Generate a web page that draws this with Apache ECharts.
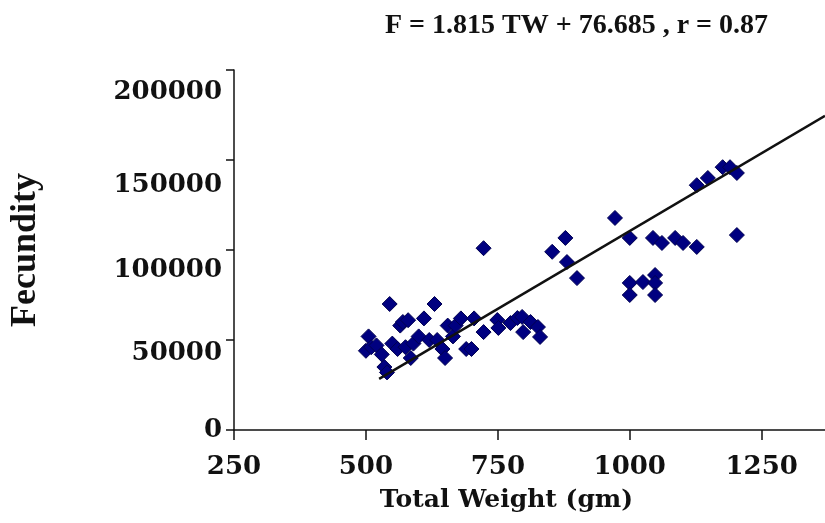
<!DOCTYPE html>
<html>
<head>
<meta charset="utf-8">
<script src="https://cdn.jsdelivr.net/npm/echarts@6/dist/echarts.min.js"></script>
<style>
html, body { margin: 0; padding: 0; background: #fff; }
#chart { width: 825px; height: 523px; }
</style>
</head>
<body>
<div id="chart"></div>
<script>
// total weight (gm) vs fecundity
var weightList = [500, 505, 510, 520, 530, 535, 540, 545, 550, 560, 565, 570, 575, 580, 585, 590,
    600, 610, 620, 630, 635, 645, 650, 655, 665, 670, 680, 690, 700, 705,
    723, 749, 751, 774, 787, 796, 798, 812, 826, 830,
    723, 853, 878, 881, 900, 972, 1000,
    1000, 1000, 1025, 1048, 1048, 1048,
    1044, 1061, 1086, 1101, 1127,
    1127, 1148, 1176, 1190, 1203, 1203];
var fecundityList = [44000, 52000, 46000, 47000, 42000, 35000, 32000, 70000, 48000, 45000, 58000, 60000, 46000, 61000, 40000, 48000,
    52000, 62000, 50000, 70000, 50000, 45000, 40000, 58000, 52000, 58000, 62000, 45000, 45000, 62000,
    54400, 61100, 56700, 59400, 62200, 62800, 54400, 60000, 57200, 51700,
    101000, 99000, 106700, 93300, 84400, 117800, 106700,
    81700, 75000, 82200, 86100, 81700, 75000,
    106700, 103900, 106700, 103900, 101700,
    136000, 140000, 146000, 146000, 142800, 108300];

// fitted line end points
var fitX = [525, 1370];
var fitY = [28400, 174600];

var xTicks = [250, 500, 750, 1000, 1250];
var yTicks = [0, 50000, 100000, 150000, 200000];

var chart = echarts.init(document.getElementById('chart'));

var points = [];
for (var i = 0; i < weightList.length; i++) {
    points.push([weightList[i], fecundityList[i]]);
}
var fitLine = [];
for (var j = 0; j < fitX.length; j++) {
    fitLine.push([fitX[j], fitY[j]]);
}

// the y labels in the figure sit a little below their ticks
var labelFont = { fontFamily: 'DejaVu Serif', fontWeight: 'bold', fontSize: 26, color: '#111' };
function shifted(top) {
    return Object.assign({ padding: [top, 0, 0, 0] }, labelFont);
}
var yRich = { l0: shifted(0), l1: shifted(26), l2: shifted(40), l3: shifted(50), l4: shifted(44) };

chart.setOption({
    backgroundColor: '#fff',
    animation: false,
    title: {
        text: 'F = 1.815 TW + 76.685 , r = 0.87',
        left: 380,
        top: 7,
        textStyle: {
            fontFamily: 'Liberation Serif',
            fontWeight: 'bold',
            fontSize: 28,
            color: '#111'
        }
    },
    grid: {
        left: 233,
        right: 0,
        top: 70,
        bottom: 93
    },
    xAxis: {
        type: 'value',
        min: 250,
        max: 1370,
        interval: 250,
        name: 'Total Weight (gm)',
        nameLocation: 'middle',
        nameGap: 58,
        nameTextStyle: {
            fontFamily: 'DejaVu Serif',
            fontWeight: 'bold',
            fontSize: 25,
            color: '#111',
            padding: [0, 46, 0, 0]
        },
        splitLine: { show: false },
        axisLine: { onZero: false, lineStyle: { color: '#111', width: 1.5 } },
        axisTick: { length: 10, lineStyle: { color: '#111', width: 1.5 } },
        axisLabel: {
            margin: 24,
            showMaxLabel: false,
            fontFamily: 'DejaVu Serif',
            fontWeight: 'bold',
            fontSize: 26,
            color: '#111',
            formatter: function (v) {
                return xTicks.indexOf(v) >= 0 ? String(v) : '';
            }
        }
    },
    yAxis: {
        type: 'value',
        min: 0,
        max: 200000,
        interval: 50000,
        name: 'Fecundity',
        nameLocation: 'middle',
        nameGap: 190,
        nameRotate: 90,
        nameTextStyle: {
            fontFamily: 'Liberation Serif',
            fontWeight: 'bold',
            fontSize: 36,
            color: '#111'
        },
        splitLine: { show: false },
        axisLine: { show: true, lineStyle: { color: '#111', width: 1.5 } },
        axisTick: { show: true, length: 8, lineStyle: { color: '#111', width: 1.5 } },
        axisLabel: {
            margin: 12,
            fontFamily: 'DejaVu Serif',
            fontWeight: 'bold',
            fontSize: 26,
            color: '#111',
            formatter: function (v) {
                var k = yTicks.indexOf(v);
                if (k < 0) return '';
                return '{l' + k + '|' + v + '}';
            },
            rich: yRich
        }
    },
    series: [
        {
            name: 'Fecundity',
            type: 'scatter',
            symbol: 'diamond',
            symbolSize: 15,
            itemStyle: { color: '#000080', borderColor: '#000050', borderWidth: 1, opacity: 1 },
            data: points,
            z: 2
        },
        {
            name: 'Fit',
            type: 'line',
            showSymbol: false,
            symbol: 'none',
            lineStyle: { color: '#111', width: 2.5 },
            data: fitLine,
            z: 3
        }
    ]
});
</script>
</body>
</html>
